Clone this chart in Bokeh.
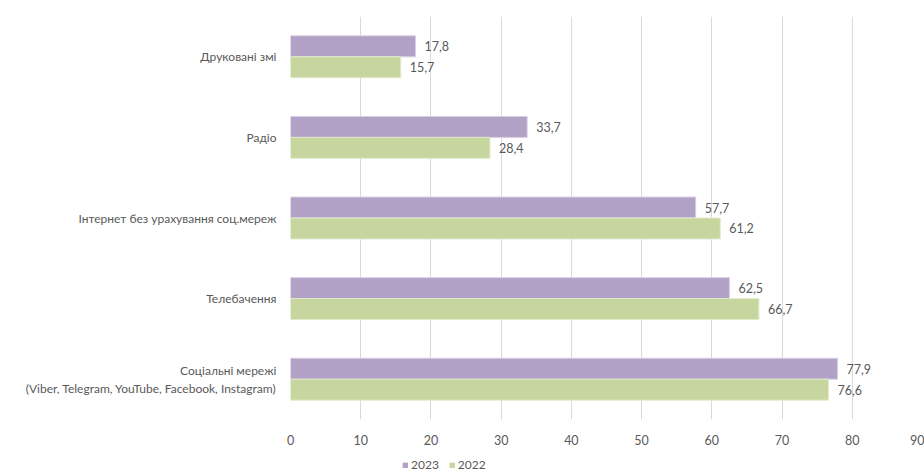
from bokeh.plotting import figure
from bokeh.layouts import column
from bokeh.models import ColumnDataSource, FactorRange, Range1d, Legend, LegendItem
from bokeh.transform import dodge
from bokeh.embed import file_html
from bokeh.resources import INLINE

categories = [
    "Друковані змі",
    "Радіо",
    "Інтернет без урахування соц.мереж",
    "Телебачення",
    "Соціальні мережі\n(Viber, Telegram, YouTube, Facebook, Instagram)",
]
values_2023 = [17.8, 33.7, 57.7, 62.5, 77.9]
values_2022 = [15.7, 28.4, 61.2, 66.7, 76.6]
series_names = ["2023", "2022"]
x_ticks = [0, 10, 20, 30, 40, 50, 60, 70, 80, 90]

def fmt(v):
    return f"{v:.1f}".replace(".", ",")

src = ColumnDataSource(dict(
    cat=categories,
    v23=values_2023,
    v22=values_2022,
    l23=[fmt(v) for v in values_2023],
    l22=[fmt(v) for v in values_2022],
))

FONT = "Lato"
TXT = "#595959"
PURPLE = "#B2A1C7"
GREEN = "#C6D69E"

p = figure(
    width=924, height=449,
    x_range=Range1d(0, 90),
    y_range=FactorRange(factors=list(reversed(categories)), range_padding=0),
    output_backend="svg", toolbar_location=None,
    min_border_left=290, min_border_right=2, min_border_top=16, min_border_bottom=30,
)
p.outline_line_color = None
p.background_fill_color = "white"

bh = 0.26
p.hbar(y=dodge("cat", bh / 2, range=p.y_range), right="v23", left=0, height=bh,
       source=src, fill_color=PURPLE, line_color="#D8CFE4", line_width=1)
p.hbar(y=dodge("cat", -bh / 2, range=p.y_range), right="v22", left=0, height=bh,
       source=src, fill_color=GREEN, line_color="#E0EACB", line_width=1)

p.text(x="v23", y=dodge("cat", bh / 2, range=p.y_range), text="l23", source=src,
       x_offset=9, text_align="left", text_baseline="middle",
       text_font_size="12.5px", text_color=TXT, text_font={"value": FONT})
p.text(x="v22", y=dodge("cat", -bh / 2, range=p.y_range), text="l22", source=src,
       x_offset=9, text_align="left", text_baseline="middle",
       text_font_size="12.5px", text_color=TXT, text_font={"value": FONT})

p.xaxis.ticker = x_ticks
p.xaxis.axis_line_color = None
p.xaxis.major_tick_line_color = None
p.xaxis.minor_tick_line_color = None
p.xaxis.major_label_text_font = FONT
p.xaxis.major_label_text_font_size = "12.5px"
p.xaxis.major_label_text_color = TXT
p.xaxis.major_label_standoff = 9

p.yaxis.axis_line_color = None
p.yaxis.major_tick_line_color = None
p.yaxis.minor_tick_line_color = None
p.yaxis.major_label_text_font = FONT
p.yaxis.major_label_text_font_size = "12px"
p.yaxis.major_label_text_color = TXT
p.yaxis.major_label_standoff = 8

p.xgrid.grid_line_color = "#D9D9D9"
p.ygrid.grid_line_color = None

# legend strip below the chart; proxy renderers reuse the series data
# (they fall outside this strip's range, so only their legend swatches show)
pl = figure(
    width=924, height=24, x_range=Range1d(0, 1), y_range=Range1d(0, 1),
    x_axis_type=None, y_axis_type=None,
    output_backend="svg", toolbar_location=None,
    min_border=0,
)
pl.outline_line_color = None
pl.xgrid.grid_line_color = None
pl.ygrid.grid_line_color = None
lr23 = pl.quad(left="v23", right="v23", bottom=0, top=0, source=src,
               fill_color=PURPLE, line_color=PURPLE)
lr22 = pl.quad(left="v22", right="v22", bottom=0, top=0, source=src,
               fill_color=GREEN, line_color=GREEN)

legend = Legend(items=[LegendItem(label=series_names[0], renderers=[lr23]),
                       LegendItem(label=series_names[1], renderers=[lr22])],
                orientation="horizontal", location=(112, 1))
legend.label_text_font = FONT
legend.label_text_font_size = "12px"
legend.label_text_color = TXT
legend.label_height = 12
legend.glyph_width = 6
legend.glyph_height = 6
legend.label_standoff = 3
legend.spacing = 10
legend.padding = 0
legend.margin = 0
legend.border_line_color = None
legend.background_fill_alpha = 0
pl.add_layout(legend)

layout = column(p, pl, spacing=0)
open("out.html", "w").write(file_html(layout, INLINE))
